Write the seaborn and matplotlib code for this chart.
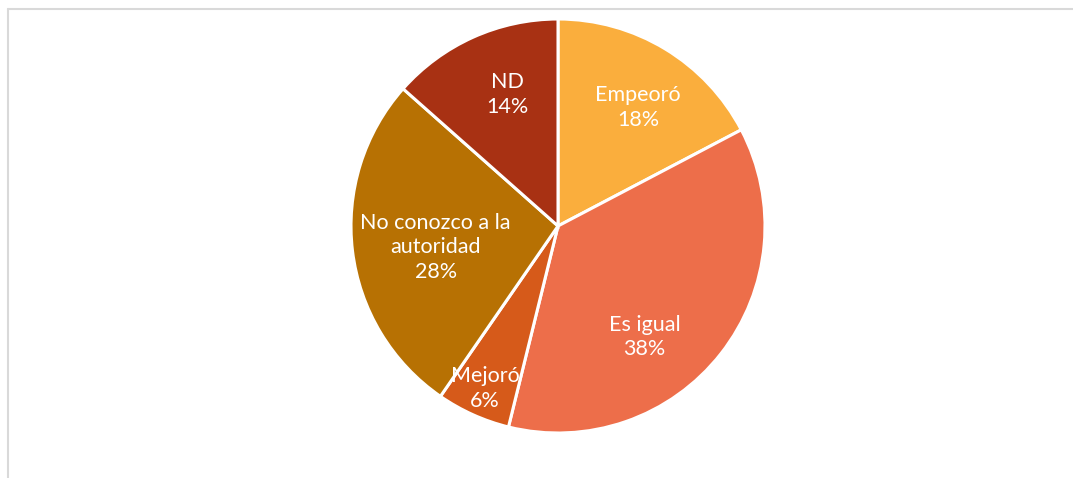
import numpy as np
import matplotlib
matplotlib.use('Agg')
import matplotlib.pyplot as plt
import seaborn as sns
from matplotlib.lines import Line2D

# data (percent labels as shown)
categories = ['Empeoró', 'Es igual', 'Mejoró', 'No conozco a la\nautoridad', 'ND']
values = [18, 38, 6, 28, 14]
colors = ['#FAAE3D', '#ED6E4A', '#D65A1A', '#B77103', '#A83113']

# label placement: distance from centre (fraction of radius) and
# a small clockwise nudge in degrees away from the wedge middle
label_r = [0.69, 0.68, 0.86, 0.60, 0.68]
label_nudge = [3, 14, 0, -3, 3]

sns.set_theme(style='white')
plt.rcParams['font.family'] = ['Lato', 'DejaVu Sans']

fig = plt.figure(figsize=(10.73, 4.78), dpi=100)
fig.patch.set_facecolor('white')

# light grey frame lines (top and left, as in the source)
fig.add_artist(Line2D([8 / 1073, 1.0], [1 - 9 / 478, 1 - 9 / 478],
                      color='#d9d9d9', lw=1.5, transform=fig.transFigure))
fig.add_artist(Line2D([8 / 1073, 8 / 1073], [0.0, 1 - 9 / 478],
                      color='#d9d9d9', lw=1.5, transform=fig.transFigure))

ax = fig.add_axes([351 / 1073, 45 / 478, 414 / 1073, 414 / 478])
wedges, _ = ax.pie(values, colors=colors, startangle=90, counterclock=False,
                   radius=1.0,
                   wedgeprops=dict(edgecolor='white', linewidth=2.2))

for w, cat, v, r, dn in zip(wedges, categories, values, label_r, label_nudge):
    mid = np.deg2rad((w.theta1 + w.theta2) / 2 - dn)
    x, y = r * np.cos(mid), r * np.sin(mid)
    ax.text(x, y, f'{cat}\n{v}%', ha='center', va='center',
            multialignment='center', color='white', fontsize=15.5,
            linespacing=1.3)

ax.set_xlim(-1, 1)
ax.set_ylim(-1, 1)
ax.set_aspect('equal')
ax.axis('off')

fig.savefig('out.png', dpi=100, facecolor='white')
